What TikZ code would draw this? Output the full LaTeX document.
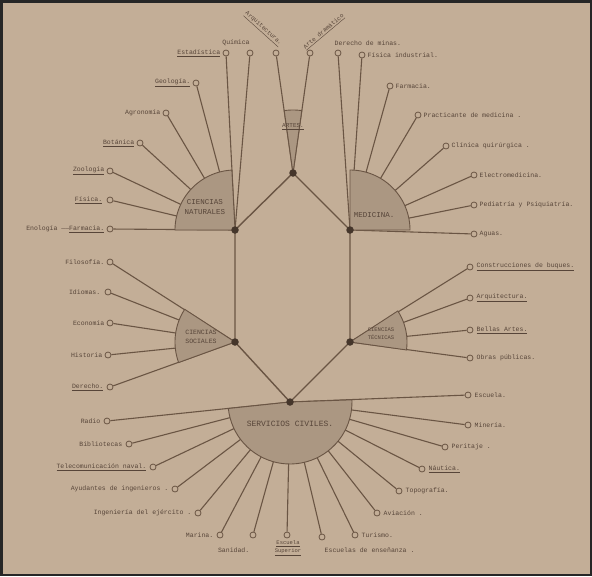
\documentclass[tikz,border=0pt]{standalone}
\usepackage{fontspec}
\newfontfamily\tw{Liberation Mono}
\definecolor{paper}{HTML}{C3AE97}
\definecolor{ink}{HTML}{6A5544}
\definecolor{shade}{HTML}{AB9782}
\definecolor{txt}{HTML}{574539}
\definecolor{hubc}{HTML}{45362B}
\newcommand\leafat[5]{\node[leaf] (#1) at (#2) {}; \node[lbl,anchor=#3] (#1t) at (#4) {#5};}
\newcommand\sectorfill[5]{\filldraw[sect] (#1,#2) -- plot[domain=#4:#5,samples=40] ({#1+#3*cos(\x)},{#2+#3*sin(\x)}) -- cycle;}
\begin{document}
\begin{tikzpicture}[x=1pt,y=-1pt,
 hub/.style={circle,fill=hubc,inner sep=0pt,minimum size=7.5pt},
 leaf/.style={circle,draw=ink,fill=paper,line width=0.8pt,inner sep=0pt,minimum size=6pt},
 lbl/.style={font=\tw\fontsize{6.5}{7.5}\selectfont,text=txt,inner sep=0.5pt},
 conn/.style={draw=ink,line width=1.1pt},
 sect/.style={fill=shade,draw=ink,line width=0.9pt},
 ttl/.style={font=\tw\fontsize{7.5}{9.5}\selectfont,text=txt,align=center,inner sep=0pt}]
\useasboundingbox (0,0) rectangle (592,576);
\fill[paper] (0,0) rectangle (592,576);
\draw[black!85,line width=2.5pt] (1.25,1.25) rectangle (590.75,574.75);
% hubs
\coordinate (T) at (293,173);
\coordinate (UL) at (235,230);
\coordinate (UR) at (350,230);
\coordinate (LL) at (235,342);
\coordinate (LR) at (350,342);
\coordinate (B) at (290,402);
% top leaves
\node[leaf] (t1) at (276,53) {};
\node[leaf] (t2) at (310,53) {};
\node[lbl,rotate=-42,font=\tw\fontsize{6}{7}\selectfont] (t1t) at (263,29) {\underline{Arquitectura.}};
\node[lbl,rotate=40,font=\tw\fontsize{6}{7}\selectfont] (t2t) at (324,32) {\underline{Arte dramático}};
% upper-left leaves
\leafat{a1}{226,53}{east}{221,53}{\underline{Estadística}}
\leafat{a2}{250,53}{south}{236,46}{Química}
\leafat{a3}{196,83}{east}{191,83}{\underline{Geología.}}
\leafat{a4}{166,113}{east}{161,113}{Agronomía}
\leafat{a5}{140,143}{east}{135,143}{\underline{Botánica}}
\leafat{a6}{110,171}{east}{105,171}{\underline{Zoología}}
\leafat{a7}{110,200}{east}{103,200}{\underline{Física.}}
\leafat{a8}{110,229}{east}{105,229}{Enología ——\underline{Farmacia.}}
% upper-right leaves
\leafat{b1}{338,53}{south west}{334,46}{Derecho de minas.}
\leafat{b2}{362,55}{west}{367,55}{Física industrial.}
\leafat{b3}{390,86}{west}{395,86}{Farmacia.}
\leafat{b4}{418,115}{west}{423,115}{Practicante de medicina .}
\leafat{b5}{446,146}{west}{451,146}{Clínica quirúrgica .}
\leafat{b6}{474,175}{west}{479,175}{Electromedicina.}
\leafat{b7}{474,205}{west}{479,205}{Pediatría y Psiquiatría.}
\leafat{b8}{474,234}{west}{479,234}{Aguas.}
% lower-left leaves
\leafat{c1}{110,262}{east}{105,262}{Filosofía.}
\leafat{c2}{108,292}{east}{101,292}{Idiomas.}
\leafat{c3}{110,323}{east}{105,323}{Economía}
\leafat{c4}{108,355}{east}{103,355}{Historia}
\leafat{c5}{110,387}{east}{104,387}{\underline{Derecho.}}
% lower-right leaves
\leafat{d1}{470,267}{west}{476,267}{\underline{Construcciones de buques.}}
\leafat{d2}{470,298}{west}{476,298}{\underline{Arquitectura.}}
\leafat{d3}{470,330}{west}{476,330}{\underline{Bellas Artes.}}
\leafat{d4}{470,358}{west}{476,358}{Obras públicas.}
% bottom right leaves
\leafat{e1}{468,395}{west}{474,395}{Escuela.}
\leafat{e2}{468,425}{west}{474,425}{Minería.}
\leafat{e3}{445,447}{west}{451,447}{Peritaje .}
\leafat{e4}{422,469}{west}{428,469}{\underline{Náutica.}}
\leafat{e5}{399,491}{west}{405,491}{Topografía.}
\leafat{e6}{377,513}{west}{383,513}{Aviación .}
\leafat{e7}{355,535}{west}{361,535}{Turismo.}
\leafat{e8}{322,537}{north west}{324,547}{Escuelas de enseñanza .}
% bottom left leaves
\leafat{f1}{107,421}{east}{101,421}{Radio}
\leafat{f2}{129,444}{east}{123,444}{Bibliotecas}
\leafat{f3}{153,467}{east}{147,467}{\underline{Telecomunicación naval.}}
\leafat{f4}{175,489}{east}{169,489}{Ayudantes de ingenieros .}
\leafat{f5}{198,513}{east}{192,513}{Ingeniería del ejército .}
\leafat{f6}{220,535}{east}{214,535}{Marina.}
\leafat{f7}{253,535}{north east}{250,547}{Sanidad.}
\node[leaf] (f8) at (287,535) {};
\node[lbl,anchor=north,align=center,font=\tw\fontsize{5.5}{8}\selectfont] (f8t) at (288,540) {\underline{Escuela}\\\underline{Superior}};
% connectors
\foreach \l in {t1,t2} \draw[conn] (T) -- (\l);
\foreach \l in {a1,a2,a3,a4,a5,a6,a7,a8} \draw[conn] (UL) -- (\l);
\foreach \l in {b1,b2,b3,b4,b5,b6,b7,b8} \draw[conn] (UR) -- (\l);
\foreach \l in {c1,c2,c3,c4,c5} \draw[conn] (LL) -- (\l);
\foreach \l in {d1,d2,d3,d4} \draw[conn] (LR) -- (\l);
\foreach \l in {e1,e2,e3,e4,e5,e6,e7,e8,f1,f2,f3,f4,f5,f6,f7,f8} \draw[conn] (B) -- (\l);
% hexagon
\draw[conn,line width=1.4pt] (T) -- (UL) -- (LL) -- (B) -- (LR) -- (UR) -- cycle;
% sectors
\sectorfill{293}{173}{63}{262}{278}
\sectorfill{235}{230}{60}{180}{267}
\sectorfill{350}{230}{60}{270}{360}
\sectorfill{235}{342}{60}{160}{213}
\sectorfill{350}{342}{57}{-33}{8}
\sectorfill{290}{402}{62}{-2}{174}
% hub dots
\foreach \h in {T,UL,UR,LL,LR,B} \node[hub] (\h d) at (\h) {};
% sector titles
\node[ttl,font=\tw\fontsize{6}{7}\selectfont] (Tt) at (293,127) {\underline{ARTES.}};
\node[ttl] (ULt) at (205,207) {CIENCIAS\\NATURALES};
\node[ttl] (URt) at (374,215) {MEDICINA.};
\node[ttl,font=\tw\fontsize{6.5}{8.5}\selectfont] (LLt) at (201,337) {CIENCIAS\\SOCIALES};
\node[ttl,font=\tw\fontsize{5.5}{8}\selectfont] (LRt) at (381,334) {CIENCIAS\\TÉCNICAS};
\node[ttl,font=\tw\fontsize{8}{9}\selectfont] (Bt) at (290,424) {SERVICIOS CIVILES.};
\end{tikzpicture}
\end{document}
